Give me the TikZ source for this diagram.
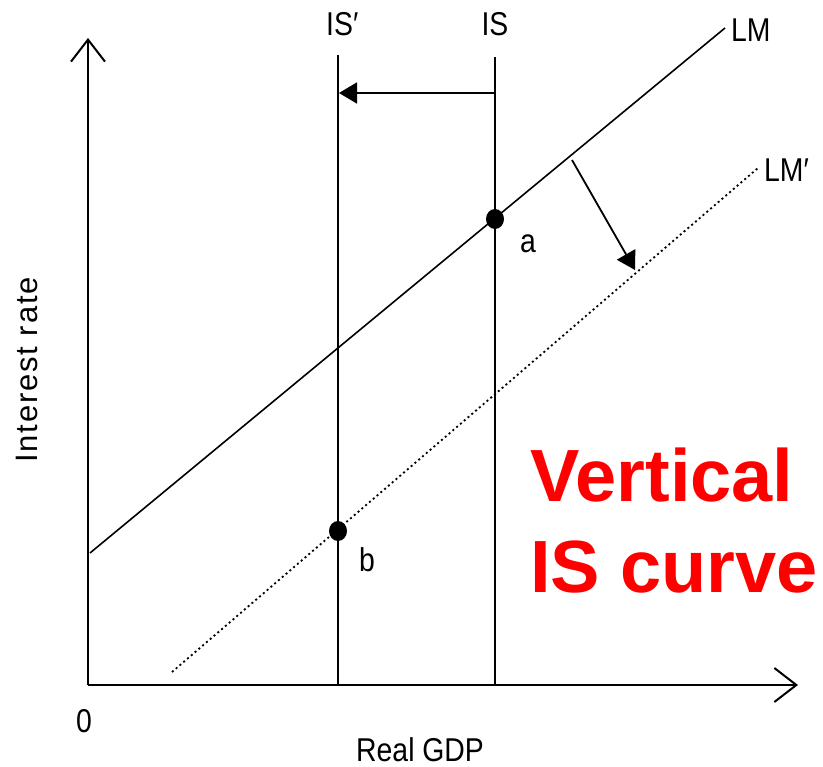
\documentclass[tikz,border=0pt]{standalone}
\usepackage{fontspec}
\setmainfont{Liberation Sans}
\newfontfamily\lblfont[FakeStretch=0.86]{Liberation Sans}
\newfontfamily\yfont[LetterSpace=6]{Liberation Sans}
\usetikzlibrary{arrows.meta,shapes.geometric}
\begin{document}
\begin{tikzpicture}[x=1pt,y=-1pt,
  lbl/.style={inner sep=0pt,font=\lblfont\fontsize{33}{33}\selectfont},
  big/.style={inner sep=0pt,text=red,font=\fontsize{74}{90}\selectfont\bfseries},
  axisline/.style={line width=2.2pt,-{Straight Barb[length=22pt,width=34pt,line width=2pt]}},
  curve/.style={line width=1.6pt},
  dotted curve/.style={line width=1.8pt,dash pattern=on 2pt off 3pt},
  shift arrow/.style={line width=1.8pt,-{Triangle[length=18pt,width=21pt]}},
  eqpoint/.style={fill=black,draw=none,ellipse,minimum width=18pt,minimum height=20pt,inner sep=0pt}
]
\useasboundingbox (0,0) rectangle (823,767);
% axes
\coordinate (O) at (88,685);
\coordinate (ytop) at (88,38);
\coordinate (xend) at (798,685);
\draw[axisline] (O) -- (ytop);
\draw[axisline] (O) -- (xend);
% IS curves
\coordinate (IStop) at (495,57);
\coordinate (ISbot) at (495,685);
\coordinate (ISPtop) at (338,55);
\coordinate (ISPbot) at (338,685);
\draw[curve] (IStop) -- (ISbot);
\draw[curve] (ISPtop) -- (ISPbot);
% shift of IS
\coordinate (ISarr) at (495,93);
\coordinate (ISParr) at (339,93);
\draw[shift arrow] (ISarr) -- (ISParr);
% LM curves
\coordinate (LMs) at (90,553);
\coordinate (LMe) at (725,28);
\coordinate (LMPs) at (172,672);
\coordinate (LMPe) at (758,168);
\draw[curve] (LMs) -- (LMe);
\draw[dotted curve] (LMPs) -- (LMPe);
% LM shift arrow
\coordinate (LMarr) at (572,160);
\coordinate (LMParr) at (635,270);
\draw[shift arrow] (LMarr) -- (LMParr);
% points
\node[eqpoint] (pa) at (495,219) {};
\node[eqpoint] (pb) at (338,531) {};
% labels
\node[lbl,anchor=base] (lIS) at (495,36) {IS};
\node[lbl,anchor=base west] (lISP) at (326,36) {IS′};
\node[lbl,anchor=base west] (lLM) at (731,42) {LM};
\node[lbl,anchor=base west] (lLMP) at (764,182) {LM′};
\node[lbl,anchor=base west] (la) at (520,253) {a};
\node[lbl,anchor=base west] (lb) at (359,572) {b};
\node[lbl,anchor=base west] (l0) at (76,732) {0};
\node[lbl,anchor=base west] (lx) at (356,761) {Real GDP};
\node[inner sep=0pt,font=\yfont\fontsize{31}{31}\selectfont,anchor=base,rotate=90] (ly) at (37,370) {Interest rate};
\node[big,anchor=base west] (t1) at (530,502) {Vertical};
\node[big,anchor=base west] (t2) at (530,592) {IS curve};
\end{tikzpicture}
\end{document}
